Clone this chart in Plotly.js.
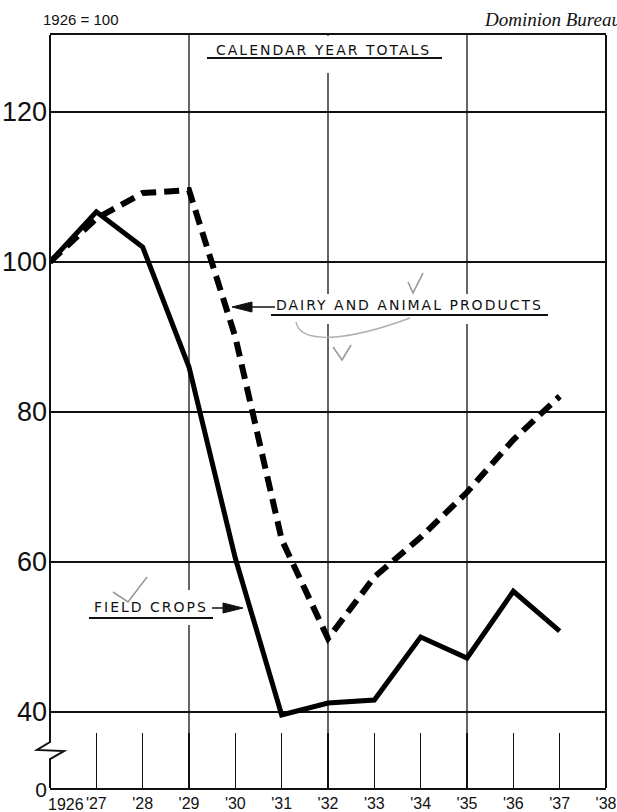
<!DOCTYPE html>
<html>
<head>
<meta charset="utf-8">
<script src="https://cdn.plot.ly/plotly-3.0.1.min.js"></script>
<style>html,body{margin:0;padding:0;background:#fff;overflow:hidden}#chart{width:617px;height:812px}</style>
</head>
<body>
<div id="chart"></div>
<script>
// ---- data (index, 1926 = 100) ----
const years = [1926,1927,1928,1929,1930,1931,1932,1933,1934,1935,1936,1937];
const fieldCrops = [100,106.7,102.0,86.0,60.5,39.6,41.2,41.6,50.0,47.2,56.1,50.8];
const dairyAnimal = [100,105.8,109.2,109.6,90.0,63.0,49.8,58.0,63.3,69.3,76.3,82.1];
const xTickVals = [1926,1927,1928,1929,1930,1931,1932,1933,1934,1935,1936,1937,1938];
const xTickText = ["","'27","'28","'29","'30","'31","'32","'33","'34","'35","'36","'37","'38"];
const firstYearLabel = "1926";
const yTickVals = [29.9,40,60,80,100,120];
const yTickText = ['<span style="font-size:21px">0</span>','40','60','80','100','120'];
const gridYears = [1929,1932,1935];

// ---- layout helpers (pixel -> paper) ----
const L = 50, R = 11, T = 35, B = 24, W = 617, H = 812;
const PW = W - L - R, PH = H - T - B;
const X = px => (px - L) / PW;
const Y = py => (H - B - py) / PH;
const pt = (p) => X(p[0]).toFixed(4) + ',' + Y(p[1]).toFixed(4);
const poly = (pts, close) => 'M' + pts.map(pt).join('L') + (close ? 'Z' : '');

const ink = '#111';
const shapes = [];
// vertical grid lines
gridYears.forEach(g => shapes.push({type:'line', xref:'x', yref:'paper', x0:g, x1:g, y0:0, y1:1,
  line:{color:ink, width:1.3}, layer:'below'}));
// right border
shapes.push({type:'line', xref:'paper', yref:'paper', x0:1, x1:1, y0:0, y1:1, line:{color:ink, width:2}});
// left border with axis break
shapes.push({type:'path', xref:'paper', yref:'paper', path: poly([[50,35],[50,742],[37,750],[64,751],[50,759],[50,788]]),
  line:{color:ink, width:2}});
// white boxes behind labels
shapes.push({type:'rect', xref:'paper', yref:'paper', x0:X(203), x1:X(446), y0:Y(36), y1:Y(73), fillcolor:'#fff', line:{width:0}, layer:'above'});
shapes.push({type:'rect', xref:'paper', yref:'paper', x0:X(268), x1:X(552), y0:Y(294), y1:Y(324), fillcolor:'#fff', line:{width:0}, layer:'above'});
shapes.push({type:'rect', xref:'paper', yref:'paper', x0:X(86), x1:X(217), y0:Y(590), y1:Y(625), fillcolor:'#fff', line:{width:0}, layer:'above'});
// underlines
shapes.push({type:'line', xref:'paper', yref:'paper', x0:X(207), x1:X(442), y0:Y(58), y1:Y(58), line:{color:ink, width:2}, layer:'above'});
shapes.push({type:'line', xref:'paper', yref:'paper', x0:X(271), x1:X(548), y0:Y(315), y1:Y(315), line:{color:ink, width:2}, layer:'above'});
shapes.push({type:'line', xref:'paper', yref:'paper', x0:X(89), x1:X(213), y0:Y(618), y1:Y(618), line:{color:ink, width:2}, layer:'above'});
// arrows
shapes.push({type:'line', xref:'paper', yref:'paper', x0:X(275), x1:X(250), y0:Y(307), y1:Y(307), line:{color:ink, width:1.5}, layer:'above'});
shapes.push({type:'path', xref:'paper', yref:'paper', path: poly([[252,302],[232,307],[252,312]], true), fillcolor:ink, line:{color:ink, width:1}, layer:'above'});
shapes.push({type:'line', xref:'paper', yref:'paper', x0:X(212), x1:X(225), y0:Y(608), y1:Y(608), line:{color:ink, width:1.5}, layer:'above'});
shapes.push({type:'path', xref:'paper', yref:'paper', path: poly([[223,603],[243,608],[223,613]], true), fillcolor:ink, line:{color:ink, width:1}, layer:'above'});
// pencil marks
const pencil = {color:'#9a9a9a', width:1.6};
shapes.push({type:'path', xref:'paper', yref:'paper', path: poly([[408,282],[413,293],[423,273]]), line:pencil, layer:'above'});
shapes.push({type:'path', xref:'paper', yref:'paper', path: poly([[333,347],[342,360],[351,345]]), line:pencil, layer:'above'});
shapes.push({type:'path', xref:'paper', yref:'paper', path: poly([[113,592],[128,602],[147,577]]), line:pencil, layer:'above'});
shapes.push({type:'path', xref:'paper', yref:'paper', path: 'M' + pt([296,322]) + 'C' + pt([300,344]) + ' ' + pt([345,342]) + ' ' + pt([410,318]), line:{color:'#b0b0b0', width:1.4}, layer:'above'});

const labFont = {family:'DejaVu Sans', size:14, color:ink};
const ls = s => '<span style="letter-spacing:2px">' + s + '</span>';
const annotations = [
  {xref:'paper', yref:'paper', x:X(41), y:Y(19), xanchor:'left', yanchor:'middle', showarrow:false,
   text:'1926 = 100', font:{family:'Liberation Sans', size:15, color:ink}},
  {xref:'paper', yref:'paper', x:X(482), y:Y(19), xanchor:'left', yanchor:'middle', showarrow:false,
   text:'<i>Dominion Bureau of Statistics</i>', font:{family:'Liberation Serif', size:19, color:ink}},
  {xref:'paper', yref:'paper', x:X(323), y:Y(50), xanchor:'center', yanchor:'middle', showarrow:false,
   text:ls('CALENDAR YEAR TOTALS'), font:labFont},
  {xref:'paper', yref:'paper', x:X(409), y:Y(305), xanchor:'center', yanchor:'middle', showarrow:false,
   text:ls('DAIRY AND ANIMAL PRODUCTS'), font:labFont},
  {xref:'paper', yref:'paper', x:X(151), y:Y(607), xanchor:'center', yanchor:'middle', showarrow:false,
   text:ls('FIELD CROPS'), font:labFont},
  // first year label, offset right of the axis as in the original
  {xref:'x', yref:'paper', x:years[0], y:Y(804), xanchor:'left', yanchor:'middle', xshift:-4, showarrow:false,
   text:firstYearLabel, font:{family:'Liberation Sans', size:16, color:ink}}
];

const traces = [
  {x:years, y:fieldCrops, type:'scatter', mode:'lines', name:'Field crops',
   line:{color:'#000', width:5}, hoverinfo:'skip'},
  {x:years, y:dairyAnimal, type:'scatter', mode:'lines', name:'Dairy and animal products',
   line:{color:'#000', width:6, dash:'15px,8px'}, hoverinfo:'skip'}
];

const layout = {
  width:W, height:H,
  margin:{l:L, r:R, t:T, b:B, pad:0},
  paper_bgcolor:'#fff', plot_bgcolor:'#fff',
  showlegend:false,
  xaxis:{range:[1926,1938], tickmode:'array', tickvals:xTickVals, ticktext:xTickText,
    showgrid:false, zeroline:false, showline:true, mirror:true, linecolor:ink, linewidth:2,
    ticks:'inside', ticklen:55, tickwidth:1.3, tickcolor:ink,
    tickfont:{family:'Liberation Sans', size:16, color:ink}, fixedrange:true},
  yaxis:{range:[29.87,130.27], tickmode:'array', tickvals:yTickVals, ticktext:yTickText,
    showgrid:true, gridcolor:ink, gridwidth:1.3, zeroline:false, showline:false, ticks:'',
    ticklabelstandoff:2,
    tickfont:{family:'Liberation Sans', size:27, color:ink}, fixedrange:true},
  shapes:shapes,
  annotations:annotations
};

Plotly.newPlot('chart', traces, layout, {displayModeBar:false, staticPlot:true});
</script>
</body>
</html>
